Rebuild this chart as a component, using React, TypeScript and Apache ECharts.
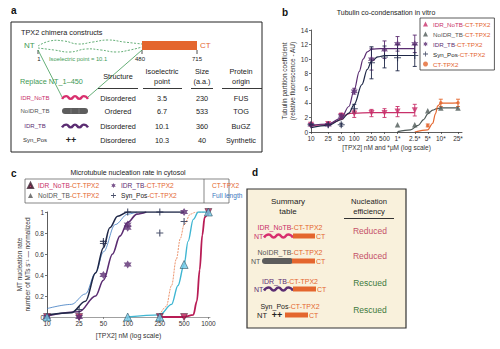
import React, { useEffect, useRef } from 'react';
import * as echarts from 'echarts';

const FONT = '"Liberation Sans", Arial, Helvetica, sans-serif';

// ---------- Panel b : tubulin co-condensation (concentration in nM) ----------
const bTickValues = [10, 25, 50, 100, 250, 500, 1000, 2500, 5000, 10000, 25000];
const bTickLabels = ['10', '25', '50', '100', '250', '500', '1*', '2.5*', '5*', '10*', '25*'];
const bYTicks = [0, 2, 4, 6, 8, 10, 12, 14];

const bIdrNoTbConc = [10, 25, 50, 100, 250, 500, 1000, 2500];
const bIdrNoTbVal = [1.0, 1.1, 2.2, 2.5, 2.6, 2.6, 2.8, 3.0];
const bIdrNoTbErr = [0.2, 0.2, 0.4, 0.5, 0.5, 0.6, 0.7, 0.8];

const bIdrTbConc = [10, 25, 50, 100, 250, 500, 1000, 2500];
const bIdrTbVal = [1.0, 1.0, 2.2, 5.6, 10.0, 11.3, 12.1, 12.1];
const bIdrTbErr = [0.1, 0.1, 0.3, 0.4, 1.5, 1.2, 1.0, 1.2];

const bSynPosConc = [10, 25, 50, 100, 250, 500, 1000, 2500];
const bSynPosVal = [1.0, 1.0, 1.0, 3.2, 9.5, 10.3, 10.2, 10.5];
const bSynPosErr = [0.1, 0.1, 0.2, 0.6, 2.2, 1.5, 1.8, 1.5];

const bNoIdrTbConc = [1000, 2500, 5000, 10000, 25000];
const bNoIdrTbVal = [1.0, 1.0, 2.9, 3.3, 3.3];

const bCtConc = [5000, 10000, 25000];
const bCtVal = [0.9, 4.0, 4.0];
const bCtErr = [0.2, 0.5, 0.5];

// fitted curves
const bIdrNoTbFitConc = [10, 25, 40, 60, 80, 100, 250, 2500];
const bIdrNoTbFitVal = [0.85, 1.0, 1.5, 2.3, 2.55, 2.6, 2.65, 2.65];
const bIdrTbFitConc = [10, 25, 50, 75, 100, 130, 160, 200, 250, 400, 2500];
const bIdrTbFitVal = [0.9, 1.1, 1.9, 3.5, 5.8, 8.3, 10.0, 11.0, 11.35, 11.45, 11.45];
const bSynPosFitConc = [10, 25, 50, 75, 100, 150, 200, 250, 350, 500, 2500];
const bSynPosFitVal = [0.6, 0.9, 1.7, 2.6, 3.8, 6.5, 8.6, 9.7, 10.3, 10.5, 10.5];
const bNoIdrTbFitConc = [1000, 2000, 3000, 4000, 5000, 6500, 8000, 10000, 25000];
const bNoIdrTbFitVal = [0.05, 0.3, 0.9, 1.7, 2.5, 3.0, 3.2, 3.3, 3.3];
const bCtFitConc = [2500, 5000, 6500, 7500, 8500, 10000, 25000];
const bCtFitVal = [0.0, 0.3, 1.2, 2.5, 3.6, 3.95, 4.0];

// ---------- Panel c : MT nucleation rate (concentration in nM) ----------
const cTickValues = [10, 25, 50, 100, 250, 500, 1000];
const cTickLabels = ['10', '25', '50', '100', '250', '500', '1000'];

const cIdrNoTbConc = [10, 25, 250, 500, 1000];
const cIdrNoTbVal = [0, 0, 0, 0, 1];
const cNoIdrTbConc = [10, 100, 250, 500, 1000];
const cNoIdrTbVal = [0, 0, 0, 0.5, 1];
const cIdrTbConc = [10, 25, 50, 100, 100, 100, 500];
const cIdrTbVal = [0, 0, 0.4, 0.5, 0.85, 0.88, 1];
const cSynPosConc = [25, 50, 50, 100, 250, 250, 500];
const cSynPosVal = [0.07, 0.72, 0.7, 1, 1, 0.8, 0.91];

const cSynPosFitConc = [10, 20, 30, 40, 50, 60, 75, 100, 250, 500];
const cSynPosFitVal = [0.02, 0.04, 0.15, 0.42, 0.66, 0.85, 0.96, 1, 1, 1];
const cIdrTbFitConc = [10, 25, 40, 50, 65, 80, 100, 130, 170];
const cIdrTbFitVal = [0.01, 0.05, 0.2, 0.35, 0.6, 0.77, 0.9, 0.98, 1];
const cThinFitConc = [10, 20, 30, 40, 50, 70, 100, 130];
const cThinFitVal = [0.08, 0.12, 0.22, 0.42, 0.62, 0.88, 0.98, 1];
const cCtFitConc = [250, 300, 350, 400, 450, 500, 600, 700, 1000];
const cCtFitVal = [0.02, 0.1, 0.3, 0.55, 0.75, 0.88, 0.98, 1, 1];
const cFullFitConc = [100, 250, 350, 420, 500, 560, 650, 750, 1000];
const cFullFitVal = [0, 0.02, 0.12, 0.3, 0.5, 0.72, 0.93, 1, 1];
const cIdrNoTbFitConc = [250, 500, 650, 720, 780, 840, 900, 1000];
const cIdrNoTbFitVal = [0, 0, 0.02, 0.15, 0.45, 0.78, 0.95, 1];

// ---------- Panel a : construct table ----------
const aNames = ['IDR_NoTB', 'NoIDR_TB', 'IDR_TB', 'Syn_Pos'];
const aStructure = ['Disordered', 'Ordered', 'Disordered', 'Disordered'];
const aPI = ['3.5', '6.7', '10.1', '10.3'];
const aSize = ['230', '533', '360', '40'];
const aOrigin = ['FUS', 'TOG', 'BuGZ', 'Synthetic'];

// ---------- Panel d : summary ----------
const dOutcome = ['Reduced', 'Reduced', 'Rescued', 'Rescued'];

const COL = {
  pink: '#c8306a',
  crimson: '#b81c55',
  gray: '#4f5a58',
  purple: '#5b2d72',
  navy: '#1f2848',
  orange: '#e4662e',
  green: '#3f9a55',
  rescued: '#3d7a3d',
  reduced: '#c45068',
  cyan: '#3fb6d2',
  lightBlue: '#6fc8e6',
  blue: '#3a78c0',
  text: '#222',
};

const STAR = 'path://M0,-10 L2.8,-4.8 L8.7,-5 L5.5,0 L8.7,5 L2.8,4.8 L0,10 L-2.8,4.8 L-8.7,5 L-5.5,0 L-8.7,-5 L-2.8,-4.8 Z';
const CROSS = 'path://M-1.6,-10 L1.6,-10 L1.6,-1.6 L10,-1.6 L10,1.6 L1.6,1.6 L1.6,10 L-1.6,10 L-1.6,1.6 L-10,1.6 L-10,-1.6 L-1.6,-1.6 Z';

const lg = (v: number) => Math.log10(v);
const pts = (conc: number[], val: number[]) => conc.map((c, i) => [lg(c), val[i]]);

const RICH_COLORS: Record<string, string> = {
  p: COL.pink, g: '#555', u: COL.purple, k: '#222', o: COL.orange, b: COL.blue,
};
const rich = (size: number, key: 'color' | 'fill') => {
  const r: any = {};
  Object.keys(RICH_COLORS).forEach((k) => {
    r[k] = { [key]: RICH_COLORS[k], fontSize: size, fontFamily: FONT };
  });
  return r;
};

const LEGEND_TEXT: Record<string, string> = {
  bIdrNoTb: '{p|IDR_NoTB}{o|-CT-TPX2}',
  bNoIdrTb: '{g|NoIDR_TB}{o|-CT-TPX2}',
  bIdrTb: '{u|IDR_TB}{o|-CT-TPX2}',
  bSynPos: '{k|Syn_Pos}{o|-CT-TPX2}',
  bCt: '{o|CT-TPX2}',
  cIdrNoTb: '{p|IDR_NoTB}{o|-CT-TPX2}',
  cNoIdrTb: '{g|NoIDR_TB}{o|-CT-TPX2}',
  cIdrTb: '{u|IDR_TB}{o|-CT-TPX2}',
  cSynPos: '{k|Syn_Pos}{o|-CT-TPX2}',
  cCtFit: '{o|CT-TPX2}',
  cFullFit: '{b|Full length}',
};

function tickLabel(values: number[], labels: string[]) {
  return (v: number) => {
    const i = values.findIndex((t) => Math.abs(lg(t) - v) < 1e-6);
    return i >= 0 ? labels[i] : '';
  };
}

function fitLine(name: string, conc: number[], val: number[], color: string, width: number, ax: number, extra: any = {}) {
  return {
    type: 'line', name, xAxisIndex: ax, yAxisIndex: ax, data: pts(conc, val),
    showSymbol: false, symbol: 'none', smooth: 0.35, smoothMonotone: 'x', silent: true,
    lineStyle: { color, width, ...(extra.lineStyle || {}) }, itemStyle: { color }, z: 2,
  };
}

function errBars(name: string, conc: number[], val: number[], err: number[], color: string) {
  return {
    type: 'custom', name, xAxisIndex: 0, yAxisIndex: 0, silent: true, z: 3,
    data: conc.map((c, i) => [lg(c), val[i], err[i]]),
    encode: { x: 0, y: 1 },
    renderItem: (_p: any, api: any) => {
      const x = api.value(0), y = api.value(1), e = api.value(2);
      const t = api.coord([x, y + e]);
      const b = api.coord([x, y - e]);
      const w = 2;
      const st = { stroke: color, lineWidth: 0.9 };
      return {
        type: 'group', children: [
          { type: 'line', shape: { x1: t[0], y1: t[1], x2: b[0], y2: b[1] }, style: st },
          { type: 'line', shape: { x1: t[0] - w, y1: t[1], x2: t[0] + w, y2: t[1] }, style: st },
          { type: 'line', shape: { x1: b[0] - w, y1: b[1], x2: b[0] + w, y2: b[1] }, style: st },
        ],
      };
    },
  };
}

function scatter(name: string, conc: number[], val: number[], ax: number, symbol: string, size: number, color: string, extra: any = {}) {
  return {
    type: 'scatter', name, xAxisIndex: ax, yAxisIndex: ax, data: pts(conc, val),
    symbol, symbolSize: size, itemStyle: { color, ...(extra.itemStyle || {}) }, z: 5,
    symbolRotate: extra.rotate || 0, silent: true,
  };
}

// ---------- graphic helpers (decoration only) ----------
const T = (text: string, x: number, y: number, size: number, fill: string, align = 'left', bold = false) => ({
  type: 'text', x, y, silent: true,
  style: {
    text, fill, font: `${bold ? 'bold ' : ''}${size}px ${FONT}`,
    textAlign: align, textVerticalAlign: 'middle', align, verticalAlign: 'middle',
  },
});
const RT = (text: string, x: number, y: number, size: number, align = 'center') => ({
  type: 'text', x, y, silent: true,
  style: {
    text, font: `${size}px ${FONT}`, textAlign: align, textVerticalAlign: 'middle', align, verticalAlign: 'middle',
    rich: rich(size, 'fill'),
  },
});
const L = (x1: number, y1: number, x2: number, y2: number, stroke: string, lineWidth = 1, lineDash?: number[]) => ({
  type: 'line', silent: true, shape: { x1, y1, x2, y2 }, style: { stroke, lineWidth, lineDash },
});
const R = (x: number, y: number, width: number, height: number, fill: string, stroke?: string, lineWidth = 1, r = 0) => ({
  type: 'rect', silent: true, shape: { x, y, width, height, r }, style: { fill, stroke, lineWidth },
});
const wave = (x0: number, x1: number, y: number, amp: number, n: number, stroke: string, lineWidth: number) => {
  const points: number[][] = [];
  for (let i = 0; i <= n; i++) points.push([x0 + ((x1 - x0) * i) / n, y + (i % 2 === 0 ? amp : -amp)]);
  return { type: 'polyline', silent: true, shape: { points, smooth: 0.6 }, style: { stroke, lineWidth, fill: null } };
};
const poly = (points: number[][], stroke: string, lineWidth: number, lineDash?: number[]) => ({
  type: 'polyline', silent: true, shape: { points, smooth: 0.5 }, style: { stroke, lineWidth, fill: null, lineDash },
});

function buildGraphics() {
  const g: any[] = [];
  // panel letters & titles
  g.push(T('a', 11, 10, 10, '#111', 'left', true));
  g.push(T('b', 282, 12, 10, '#111', 'left', true));
  g.push(T('c', 11, 173, 10, '#111', 'left', true));
  g.push(T('d', 252, 172, 10, '#111', 'left', true));
  g.push(T('Tubulin co-condensation in vitro', 386, 12, 7, COL.text, 'center'));
  g.push(T('Microtubule nucleation rate in cytosol', 128, 172, 7, COL.text, 'center'));

  // ---- panel a ----
  g.push(R(11, 22, 251, 130, 'none', '#222', 1));
  g.push(T('TPX2 chimera constructs', 21, 32, 7.3, COL.text));
  g.push(T('NT', 24, 45, 8, COL.green));
  g.push(poly([[38, 46], [50, 41], [64, 41], [78, 44], [93, 42], [108, 40], [124, 42], [142, 44]], COL.green, 0.8, [2, 1.5]));
  g.push(poly([[38, 48], [54, 50], [70, 52], [86, 49], [101, 50], [116, 52], [130, 50], [142, 47]], COL.green, 0.8, [2, 1.5]));
  g.push(R(142, 41, 55, 9, COL.orange));
  g.push(T('CT', 200, 45, 8, COL.orange));
  g.push(L(38, 50, 38, 54, '#222', 0.8));
  g.push(L(142, 50, 142, 54, '#222', 0.8));
  g.push(L(197, 50, 197, 54, '#222', 0.8));
  g.push(T('1', 39, 59, 6, COL.text, 'center'));
  g.push(T('480', 140, 59, 6, COL.text, 'center'));
  g.push(T('715', 197, 59, 6, COL.text, 'center'));
  g.push(T('Isoelectric point = 10.1', 49, 59, 5.8, COL.green));
  g.push(L(38, 50, 62, 97, COL.green, 0.8));
  g.push(L(142, 50, 88, 97, COL.green, 0.8));
  g.push(T('Replace NT_1–450', 20, 81, 7.3, COL.green));
  // header
  g.push(T('Structure', 118, 76, 7.3, COL.text, 'center'));
  g.push(T('Isoelectric', 162, 71, 7.3, COL.text, 'center'));
  g.push(T('point', 162, 81, 7.3, COL.text, 'center'));
  g.push(T('Size', 202, 71, 7.3, COL.text, 'center'));
  g.push(T('(a.a.)', 202, 81, 7.3, COL.text, 'center'));
  g.push(T('Protein', 241, 71, 7.3, COL.text, 'center'));
  g.push(T('origin', 241, 81, 7.3, COL.text, 'center'));
  g.push(L(98, 88.5, 138, 88.5, '#222', 0.9));
  g.push(L(143, 88.5, 182, 88.5, '#222', 0.9));
  g.push(L(191, 88.5, 213, 88.5, '#222', 0.9));
  g.push(L(222, 88.5, 262, 88.5, '#222', 0.9));
  const rowY = [98, 111, 126, 140];
  const nameCol = [COL.pink, '#555', COL.purple, '#333'];
  aNames.forEach((n, i) => {
    g.push(T(n, 35, rowY[i], 6, nameCol[i], 'center'));
    g.push(T(aStructure[i], 118, rowY[i], 7.3, COL.text, 'center'));
    g.push(T(aPI[i], 162, rowY[i], 7.3, COL.text, 'center'));
    g.push(T(aSize[i], 202, rowY[i], 7.3, COL.text, 'center'));
    g.push(T(aOrigin[i], 241, rowY[i], 7.3, COL.text, 'center'));
  });
  g.push(wave(62, 88, 97.5, 1.4, 6, '#d8306e', 2.4));
  g.push(R(62, 108, 26, 6, '#5d5d5d', undefined, 1, 3));
  g.push(L(71, 108.5, 71, 113.5, '#8a8a8a', 0.6));
  g.push(L(79, 108.5, 79, 113.5, '#8a8a8a', 0.6));
  g.push(wave(62, 88, 126, 1.4, 6, COL.purple, 2.4));
  g.push(T('++', 71, 140, 9, '#222', 'center', true));

  // ---- panel d ----
  g.push(R(247, 189, 159, 139, '#f9f1dc', '#333', 1.2));
  g.push(T('Summary', 288, 201, 8, COL.text, 'center'));
  g.push(T('table', 288, 211, 8, COL.text, 'center'));
  g.push(T('Nucleation', 369, 201, 7.6, COL.text, 'center'));
  g.push(T('efficiency', 369, 211, 7.6, COL.text, 'center'));
  g.push(L(344, 218.5, 394, 218.5, '#333', 1.2));
  const dLab = [
    '{p|IDR_NoTB}{o|-CT-TPX2}',
    '{g|NoIDR_TB}{o|-CT-TPX2}',
    '{u|IDR_TB}{o|-CT-TPX2}',
    '{k|Syn_Pos}{o|-CT-TPX2}',
  ];
  const dLabY = [227, 252, 281, 306];
  const dBarY = [236, 261, 289, 315];
  const dResY = [231, 256, 283, 310];
  dLab.forEach((t, i) => g.push(RT(t, 290, dLabY[i], 7)));
  // row 1
  g.push(T('NT', 254, dBarY[0], 7, COL.pink));
  g.push(wave(264, 293, dBarY[0], 1.5, 6, '#d8306e', 2.4));
  g.push(R(293, dBarY[0] - 2.5, 22, 5, COL.orange));
  g.push(T('CT', 316, dBarY[0], 7, COL.orange));
  // row 2
  g.push(T('NT', 251, dBarY[1], 7, '#555'));
  g.push(R(262, dBarY[1] - 3, 31, 6, '#5d5d5d', undefined, 1, 3));
  g.push(R(292, dBarY[1] - 2.5, 23, 5, COL.orange));
  g.push(T('CT', 316, dBarY[1], 7, COL.orange));
  // row 3
  g.push(T('NT', 254, dBarY[2], 7, COL.purple));
  g.push(wave(264, 293, dBarY[2], 1.5, 6, COL.purple, 2.4));
  g.push(R(293, dBarY[2] - 2.5, 23, 5, COL.orange));
  g.push(T('CT', 317, dBarY[2], 7, COL.orange));
  // row 4
  g.push(T('NT', 257, dBarY[3], 7.5, '#222'));
  g.push(T('++', 277, dBarY[3], 9, '#222', 'center', true));
  g.push(R(285, dBarY[3] - 2.5, 23, 5, COL.orange));
  g.push(T('CT', 309, dBarY[3], 7, COL.orange));
  dOutcome.forEach((o, i) => g.push(T(o, 370, dResY[i], 8.5, o === 'Reduced' ? COL.reduced : COL.rescued, 'center')));

  // panel c legend frame
  g.push(R(25, 179, 204, 24, 'none', '#555', 0.7));
  g.push(L(204, 179, 204, 203, '#555', 0.7));
  return g;
}

function buildOption() {
  const axisText = { fontSize: 6.5, color: '#333', fontFamily: FONT, margin: 3 };
  const axisLine = { show: true, lineStyle: { color: '#333', width: 0.8 } };
  const legendRichB = rich(6.2, 'color');
  const legendRichC = rich(6.6, 'color');
  const fmt = (n: string) => LEGEND_TEXT[n] || n;

  return {
    animation: false,
    backgroundColor: '#fff',
    textStyle: { fontFamily: FONT },
    grid: [
      { left: 311, top: 30, width: 151, height: 102 },
      { left: 47, top: 212, width: 163, height: 105 },
    ],
    xAxis: [
      {
        type: 'value', gridIndex: 0, min: 1, max: 4.49,
        name: '[TPX2] nM and *µM (log scale)', nameLocation: 'middle', nameGap: 12,
        nameTextStyle: { fontSize: 6.5, color: '#333', fontFamily: FONT },
        axisLine, splitLine: { show: false },
        axisTick: { show: true, length: 2, customValues: bTickValues.map(lg), lineStyle: { color: '#333', width: 0.7 } },
        axisLabel: { ...axisText, customValues: bTickValues.map(lg), formatter: tickLabel(bTickValues, bTickLabels) },
      },
      {
        type: 'value', gridIndex: 1, min: 1, max: 3.02,
        name: '[TPX2] nM (log scale)', nameLocation: 'middle', nameGap: 15,
        nameTextStyle: { fontSize: 6.8, color: '#333', fontFamily: FONT },
        axisLine: { show: true, lineStyle: { color: '#888', width: 0.8 } }, splitLine: { show: false },
        axisTick: { show: true, length: 2, customValues: cTickValues.map(lg), lineStyle: { color: '#666', width: 0.7 } },
        axisLabel: { ...axisText, customValues: cTickValues.map(lg), formatter: tickLabel(cTickValues, cTickLabels) },
      },
    ],
    yAxis: [
      {
        type: 'value', gridIndex: 0, min: bYTicks[0], max: bYTicks[bYTicks.length - 1], interval: 2,
        name: 'Tubulin partition coefficient\n(relative fluorescence - AU)', nameLocation: 'middle', nameGap: 13,
        nameTextStyle: { fontSize: 6.5, color: '#333', fontFamily: FONT, lineHeight: 8 },
        axisLine, splitLine: { show: false },
        axisTick: { show: true, length: 2, lineStyle: { color: '#333', width: 0.7 } },
        axisLabel: axisText,
      },
      {
        type: 'value', gridIndex: 1, min: 0, max: 1, interval: 0.2,
        name: 'MT nucleation rate\nnumber of MTs s⁻¹ — normalized', nameLocation: 'middle', nameGap: 13,
        nameTextStyle: { fontSize: 6.5, color: '#333', fontFamily: FONT, lineHeight: 8 },
        axisLine, splitLine: { show: false },
        axisTick: { show: true, length: 2, lineStyle: { color: '#333', width: 0.7 } },
        axisLabel: { ...axisText, formatter: (v: number) => (v === 0 ? '0' : v === 1 ? '1' : v.toFixed(1)) },
      },
    ],
    legend: [
      {
        orient: 'vertical', left: 420, top: 18, itemGap: 4, itemWidth: 5, itemHeight: 5,
        padding: [3, 4, 3, 3], borderColor: '#333', borderWidth: 0.8, backgroundColor: '#fff',
        data: ['bIdrNoTb', 'bNoIdrTb', 'bIdrTb', 'bSynPos', 'bCt'],
        formatter: fmt, textStyle: { fontSize: 6.2, fontFamily: FONT, rich: legendRichB },
        selectedMode: false,
      },
      {
        orient: 'vertical', left: 26, top: 181, itemGap: 3, itemWidth: 5, itemHeight: 5, padding: 1,
        data: ['cIdrNoTb', { name: 'cNoIdrTb', itemStyle: { color: '#555', borderWidth: 0 } }],
        formatter: fmt, textStyle: { fontSize: 6.6, fontFamily: FONT, rich: legendRichC }, selectedMode: false,
      },
      {
        orient: 'vertical', left: 110, top: 181, itemGap: 3, itemWidth: 5, itemHeight: 5, padding: 1,
        data: ['cIdrTb', 'cSynPos'],
        formatter: fmt, textStyle: { fontSize: 6.6, fontFamily: FONT, rich: legendRichC }, selectedMode: false,
      },
      {
        orient: 'vertical', left: 205, top: 181, itemGap: 3, itemWidth: 1, itemHeight: 5, padding: 1,
        data: [{ name: 'cCtFit', icon: 'none' }, { name: 'cFullFit', icon: 'none' }],
        formatter: fmt, textStyle: { fontSize: 6.6, fontFamily: FONT, rich: legendRichC }, selectedMode: false,
      },
    ],
    series: [
      // panel b fits
      fitLine('bIdrNoTbFit', bIdrNoTbFitConc, bIdrNoTbFitVal, COL.pink, 1.2, 0),
      fitLine('bIdrTbFit', bIdrTbFitConc, bIdrTbFitVal, COL.purple, 1.2, 0),
      fitLine('bSynPosFit', bSynPosFitConc, bSynPosFitVal, COL.navy, 1.2, 0),
      fitLine('bNoIdrTbFit', bNoIdrTbFitConc, bNoIdrTbFitVal, COL.gray, 1.2, 0),
      fitLine('bCtFit', bCtFitConc, bCtFitVal, COL.orange, 1.2, 0),
      // panel b error bars
      errBars('bIdrNoTbErr', bIdrNoTbConc, bIdrNoTbVal, bIdrNoTbErr, COL.pink),
      errBars('bIdrTbErr', bIdrTbConc, bIdrTbVal, bIdrTbErr, COL.purple),
      errBars('bSynPosErr', bSynPosConc, bSynPosVal, bSynPosErr, COL.navy),
      errBars('bCtErr', bCtConc, bCtVal, bCtErr, COL.orange),
      // panel b markers
      scatter('bIdrNoTb', bIdrNoTbConc, bIdrNoTbVal, 0, 'triangle', 6, COL.pink, { rotate: 180 }),
      scatter('bNoIdrTb', bNoIdrTbConc, bNoIdrTbVal, 0, 'triangle', 5.5, COL.gray),
      scatter('bIdrTb', bIdrTbConc, bIdrTbVal, 0, STAR, 7, COL.purple),
      scatter('bSynPos', bSynPosConc, bSynPosVal, 0, CROSS, 7, COL.navy),
      scatter('bCt', bCtConc, bCtVal, 0, 'circle', 3.5, COL.orange),
      // panel c fits
      fitLine('cThinFit', cThinFitConc, cThinFitVal, COL.blue, 0.8, 1),
      fitLine('cIdrTbFit', cIdrTbFitConc, cIdrTbFitVal, COL.purple, 1.6, 1),
      fitLine('cSynPosFit', cSynPosFitConc, cSynPosFitVal, COL.navy, 1.6, 1),
      fitLine('cCtFit', cCtFitConc, cCtFitVal, COL.orange, 0.7, 1, { lineStyle: { type: [2, 1] } }),
      fitLine('cFullFit', cFullFitConc, cFullFitVal, COL.cyan, 1.4, 1),
      fitLine('cIdrNoTbFit', cIdrNoTbFitConc, cIdrNoTbFitVal, COL.crimson, 1.8, 1),
      // panel c markers
      scatter('cIdrNoTb', cIdrNoTbConc, cIdrNoTbVal, 1, 'triangle', 7, COL.crimson, { rotate: 180, itemStyle: { borderColor: '#3a2030', borderWidth: 0.6 } }),
      scatter('cIdrTb', cIdrTbConc, cIdrTbVal, 1, STAR, 8, COL.purple),
      scatter('cSynPos', cSynPosConc, cSynPosVal, 1, CROSS, 7, COL.navy),
      scatter('cNoIdrTb', cNoIdrTbConc, cNoIdrTbVal, 1, 'triangle', 8, COL.lightBlue, { itemStyle: { borderColor: '#2a4a5a', borderWidth: 0.7 } }),
    ],
    graphic: { elements: buildGraphics() },
  };
}

export default function App() {
  const ref = useRef<HTMLDivElement>(null);
  useEffect(() => {
    if (!ref.current) return;
    const chart = echarts.init(ref.current, undefined, { renderer: 'svg' });
    chart.setOption(buildOption() as any);
    return () => chart.dispose();
  }, []);
  return (
    <div
      ref={ref}
      style={{ position: 'fixed', left: 0, top: 0, width: 500, height: 349, background: '#fff' }}
    />
  );
}
